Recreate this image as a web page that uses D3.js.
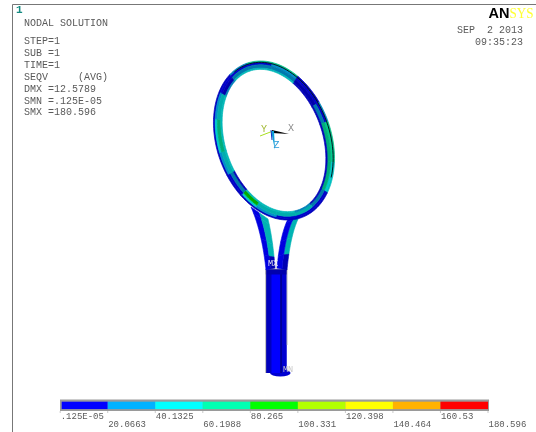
<!DOCTYPE html>
<html><head><meta charset="utf-8">
<script src="https://cdnjs.cloudflare.com/ajax/libs/d3/7.8.5/d3.min.js"></script>
<style>html,body{margin:0;padding:0;background:#fff;overflow:hidden}svg{display:block}
text{font-family:"Liberation Mono",monospace;font-size:10px;fill:#5a5a5a}</style>
</head><body><svg id="c" width="536" height="432"></svg>
<script>
// ---- Data ----
const infoLines = ["STEP=1","SUB =1","TIME=1","SEQV     (AVG)","DMX =12.5789","SMN =.125E-05","SMX =180.596"];
const legendLabels = [".125E-05","20.0663","40.1325","60.1988","80.265","100.331","120.398","140.464","160.53","180.596"];
const legendValues = [0.00000125,20.0663,40.1325,60.1988,80.265,100.331,120.398,140.464,160.53,180.596];
const contourColors = ["#0000ff","#00b2ff","#00ffff","#00ffb2","#00ff00","#b2ff00","#ffff00","#ffb200","#ff0000"];
// stations around the head (degrees, clockwise from the tip) and SEQV per segment, outer to inner layer
const headStations = [0,25,50,75,90,120,145,165,185,205,225,240,258,275,300,322,340,360];
const headLayer0 = [65,65,10,30,65,45,10,10,10,10,10,10,10,10,10,10,30];
const headLayer1 = [10,30,10,10,70,50,10,10,10,30,50,10,25,45,25,10,10];
const headLayer2 = [30,30,10,30,65,65,30,45,50,60,85,30,45,62,50,10,25];
const headLayer3 = [45,45,10,10,10,10,10,30,60,50,50,10,45,55,50,25,45];
// stations along a throat arm (head to handle) and SEQV across it
const armStations = [0,0.12,0.55,0.8,1];
const leftArmOuter = [10,10,10,10,10];
const leftArmInner = [50,45,45,10,45];
const rightArmOuter = [50,45,45,10,10];
const rightArmInner = [10,10,10,10,45];
const handleFacets = [6,6,6,6];

// ---- Scales ----
const svg = d3.select("#c");
const defs = svg.append("defs");
defs.append("filter").attr("id","soft").attr("x","-5%").attr("y","-5%").attr("width","110%").attr("height","110%")
  .append("feGaussianBlur").attr("stdDeviation",0.7);
defs.append("filter").attr("id","softH").attr("x","-10%").attr("y","-5%").attr("width","120%").attr("height","110%")
  .append("feGaussianBlur").attr("stdDeviation",0.4);
defs.append("filter").attr("id","softT").attr("x","-5%").attr("y","-20%").attr("width","110%").attr("height","140%")
  .append("feGaussianBlur").attr("stdDeviation",0.3);
const color = d3.scaleThreshold().domain(legendValues.slice(1,-1)).range(contourColors);
const shade = (c,s)=>d3.interpolateRgb(c,"#000")(1-s);
const legendX = d3.scaleLinear().domain([legendValues[0],legendValues[9]]).range([60.2,488]);

// ---- Frame ----
svg.append("path").attr("d","M536,4.5H12.5V432").attr("fill","none").attr("stroke","#777").attr("stroke-width",1);

// ---- Text blocks ----
const txt = svg.append("g").attr("filter","url(#softT)");
txt.append("text").attr("x",16).attr("y",13).text("1").style("fill","#128a80").style("font-weight","bold").style("font-size","11px");
txt.append("text").attr("x",24).attr("y",26).text("NODAL SOLUTION");
txt.selectAll(".info").data(infoLines).join("text").attr("class","info").attr("x",24)
  .attr("y",(d,i)=>44+i*11.9).style("white-space","pre").text(d=>d);
txt.append("text").attr("x",523).attr("y",33).attr("text-anchor","end").style("white-space","pre").text("SEP  2 2013");
txt.append("text").attr("x",523).attr("y",45).attr("text-anchor","end").text("09:35:23");
txt.append("text").attr("x",488.5).attr("y",18).attr("textLength",21).attr("lengthAdjust","spacingAndGlyphs").text("AN")
  .style("font-family","Liberation Sans").style("font-weight","bold").style("font-size","15px").style("fill","#000");
txt.append("text").attr("x",509.5).attr("y",18).attr("textLength",24).attr("lengthAdjust","spacingAndGlyphs").text("SYS")
  .style("font-family","Liberation Serif").style("font-size","15px").style("fill","#ffff30");

// ---- Racket ----
const cx=274, cy=140.5, rot=19.5*Math.PI/180;
const ell=(t,a,b)=>{const r=t*Math.PI/180,x=b*Math.sin(r),y=-a*Math.cos(r);
  return [cx+x*Math.cos(rot)+y*Math.sin(rot), cy-x*Math.sin(rot)+y*Math.cos(rot)];};
const ringPt=(t,u)=>{const o=ell(t,81.9,57.3),i=ell(t,73.5,48.5);return [o[0]+(i[0]-o[0])*u,o[1]+(i[1]-o[1])*u];};
const line=d3.line();
const bez=(p,s)=>[0,1].map(k=>(1-s)*(1-s)*p[0][k]+2*s*(1-s)*p[1][k]+s*s*p[2][k]);

// Handle
const handle = svg.append("g").attr("filter","url(#softH)");
const hx=d3.scaleLinear().domain([0,1,2,3,4]).range([266,271.5,280.5,281.5,286.5]);
const handleShades=[0.74,1,0.3,0.82];
const hTop=269,hBot=373;
handle.append("ellipse").attr("cx",hx(2)-0.2).attr("cy",hBot).attr("rx",10.3).attr("ry",3.4).attr("fill",shade(color(handleFacets[0]),0.82));
handle.append("rect").attr("x",266).attr("y",hTop).attr("width",20.5).attr("height",hBot-hTop).attr("fill",shade(color(6),0.82));
handleFacets.forEach((v,i)=>{
  handle.append("rect").attr("x",hx(i)).attr("y",hTop).attr("width",hx(i+1)-hx(i)+(i<3?0.4:0)).attr("height",hBot-hTop)
    .attr("fill",shade(color(v),handleShades[i]));
});
handle.append("rect").attr("x",265.8).attr("y",hTop).attr("width",21).attr("height",5.5).attr("fill",shade(color(6),0.68));
handle.append("path").attr("d",`M265.8,${hTop}V${hBot}`).attr("stroke","#8a8a8a").attr("stroke-width",0.7).attr("fill","none");
handle.append("path").attr("d",`M265.8,${hTop}H287V${hBot-28}`).attr("stroke","#999").attr("stroke-width",0.7).attr("fill","none");

const racket = svg.append("g").attr("filter","url(#soft)");
// Throat arms
function arm(edgeA,edgeB,vA,vB,sA,sB){
  const mid=(a,b,s)=>{const p=bez(a,s),q=bez(b,s);return [p[0]+(q[0]-p[0])*0.5,p[1]+(q[1]-p[1])*0.5];};
  armStations.slice(0,-1).forEach((s0,i)=>{
    const s1=armStations[i+1], ss=d3.range(s0,s1+0.001,(s1-s0)/6);
    const a=ss.map(s=>bez(edgeA,s)), m=ss.map(s=>mid(edgeA,edgeB,s)), b=ss.map(s=>bez(edgeB,s));
    const fa=shade(color(vA[i]),sA), fb=shade(color(vB[i]),sB);
    racket.append("path").attr("d",line(a.concat(m.slice().reverse()))+"Z").attr("fill",fa).attr("stroke",fa).attr("stroke-width",0.6);
    racket.append("path").attr("d",line(m.concat(b.slice().reverse()))+"Z").attr("fill",fb).attr("stroke",fb).attr("stroke-width",0.6);
  });
}
arm([[251,207],[262,232],[266,270]],[[268,219],[273,240],[275,268]],leftArmOuter,leftArmInner,0.88,0.7);
arm([[302,212],[291,228],[287,270]],[[288,219],[280,235],[277,268]],rightArmOuter,rightArmInner,0.7,0.88);

// Head
const layers=[headLayer0,headLayer1,headLayer2,headLayer3];
const layerU=[0,0.2,0.45,0.85,1];
const layerShade=[0.74,0.8,0.68,0.72];
layers.forEach((vals,l)=>{
  vals.forEach((v,i)=>{
    const ts=d3.range(headStations[i],headStations[i+1]+0.01,(headStations[i+1]-headStations[i])/10);
    const a=ts.map(t=>ringPt(t,layerU[l])), b=ts.map(t=>ringPt(t,layerU[l+1])).reverse();
    const f=shade(color(v),layerShade[l]);
    racket.append("path").attr("d",line(a.concat(b))+"Z").attr("fill",f).attr("stroke",f).attr("stroke-width",0.7);
  });
});
// Element edge line on the far side of the frame
const edgeTs=d3.range(-15,135,3);
racket.append("path").attr("d",line(edgeTs.map(t=>ringPt(t,0.16)))).attr("fill","none").attr("stroke","#021820").attr("stroke-width",1);

// Triad
const tri=svg.append("g").attr("filter","url(#softT)");
tri.append("path").attr("d","M260,136L273,131").attr("stroke","#a8e020").attr("stroke-width",1).attr("fill","none");
tri.append("path").attr("d","M272,130L289,134L272,133Z").attr("fill","#000");
tri.append("path").attr("d","M271,131L275,150L274,131Z").attr("fill","#10a0d8");
tri.append("path").attr("d","M271,130L272,140").attr("stroke","#1030c0").attr("stroke-width",1);
tri.append("text").attr("x",261).attr("y",131.5).text("Y").style("fill","#a0b830");
tri.append("text").attr("x",288).attr("y",131).text("X").style("fill","#888");
tri.append("text").attr("x",273.5).attr("y",148).text("Z").style("fill","#2a9ad8");
tri.append("text").attr("x",268).attr("y",266).text("MX").style("fill","#e4e4f0").style("font-size","8.5px");
tri.append("text").attr("x",283).attr("y",372).text("MN").style("fill","#c8c8c8").style("font-size","8.5px");

// ---- Legend ----
const lg=svg.append("g").attr("filter","url(#softT)");
lg.append("rect").attr("x",60).attr("y",399.5).attr("width",429).attr("height",11.5).attr("fill","#9a9a9a");
lg.selectAll(".c").data(contourColors).join("rect").attr("class","c")
  .attr("x",(d,i)=>i===0?legendX(legendValues[0])+1.5:legendX(legendValues[i]))
  .attr("y",401.7)
  .attr("width",(d,i)=>legendX(legendValues[i+1])-legendX(legendValues[i])-(i===0?1.5:0))
  .attr("height",7.4).attr("fill",d=>d);
lg.selectAll(".t").data(legendValues).join("path").attr("class","t")
  .attr("d",d=>`M${legendX(d)},411V413`).attr("stroke","#bbb").attr("stroke-width",0.8);
lg.selectAll(".l").data(legendLabels).join("text").attr("class","l")
  .attr("x",(d,i)=>legendX(legendValues[i])+0.5)
  .attr("y",(d,i)=>i%2?427:419).style("font-size","9px").text(d=>d);
</script></body></html>
